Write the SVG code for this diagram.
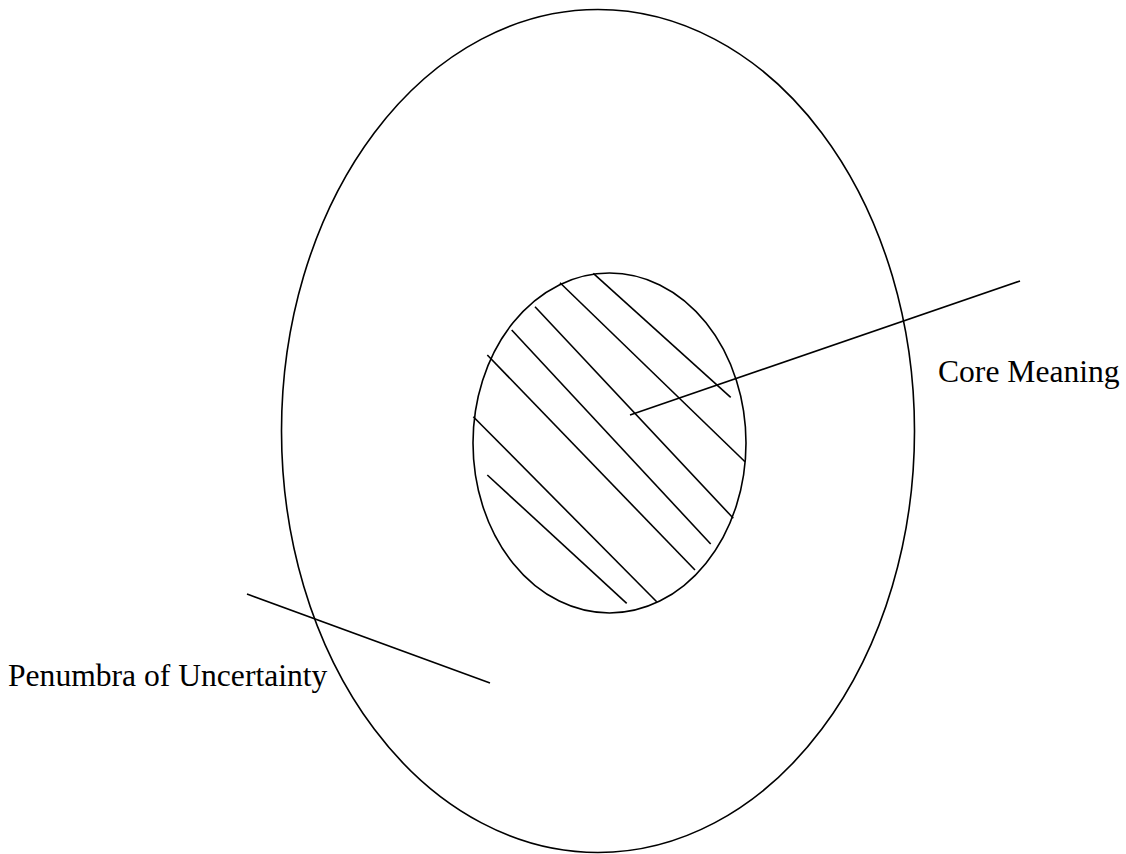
<svg xmlns="http://www.w3.org/2000/svg" width="1126" height="854" viewBox="0 0 1126 854">
<style>
.s{fill:none;stroke:#000;stroke-width:1.6}
.t{font-family:"Liberation Serif","Times New Roman",serif;font-size:31.6px;fill:#000}
</style>
<rect width="1126" height="854" fill="#fff"/>
<g id="outer">
<ellipse class="s" cx="598" cy="431" rx="316.5" ry="421.5"/>
</g>
<g id="core">
<ellipse class="s" cx="609.5" cy="443" rx="136.5" ry="170"/>
<g id="hatch">
<line class="s" x1="593.3" y1="273.3" x2="730.7" y2="397.3"/>
<line class="s" x1="560" y1="282.7" x2="745" y2="461.7"/>
<line class="s" x1="535" y1="306.7" x2="733.3" y2="518.3"/>
<line class="s" x1="511.7" y1="330" x2="710.7" y2="544"/>
<line class="s" x1="487.3" y1="355" x2="695" y2="570"/>
<line class="s" x1="473.3" y1="416.7" x2="656.7" y2="601.7"/>
<line class="s" x1="487.3" y1="475" x2="626.7" y2="603.3"/>
</g>
</g>
<g id="connectors">
<line class="s" x1="630" y1="415" x2="1020" y2="281"/>
<line class="s" x1="247" y1="594" x2="490" y2="683"/>
</g>
<g id="label-core">
<text class="t" x="938" y="382">Core Meaning</text>
</g>
<g id="label-penumbra">
<text class="t" x="8" y="686">Penumbra of Uncertainty</text>
</g>
</svg>
